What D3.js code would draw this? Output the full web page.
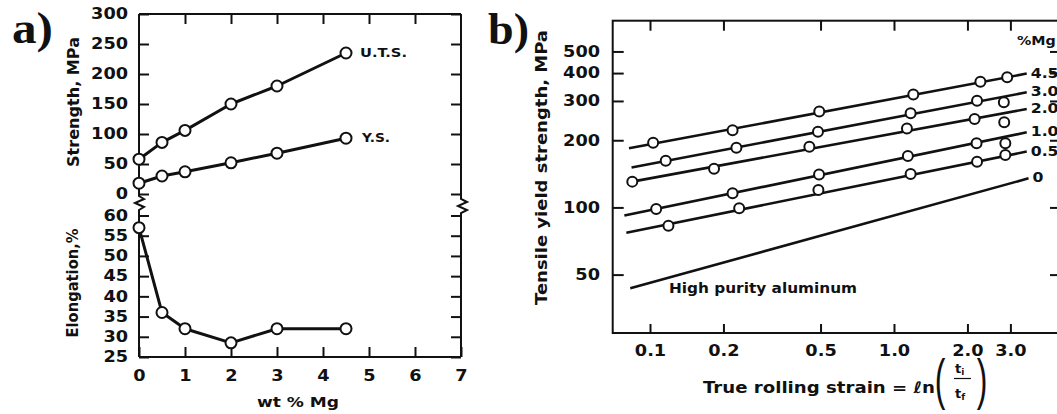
<!DOCTYPE html>
<html>
<head>
<meta charset="utf-8">
<script src="https://cdn.jsdelivr.net/npm/d3@7"></script>
<style>
  html, body { margin: 0; padding: 0; background: #fff; }
  svg { display: block; }
  text { font-family: "DejaVu Sans", sans-serif; font-weight: bold; fill: #111; }
  text.serif { font-family: "Liberation Serif", "Times New Roman", serif; }
  text.paren { font-family: "Liberation Sans", Arial, sans-serif; font-weight: normal; }
</style>
</head>
<body>
<svg id="chart" width="1057" height="414"></svg>
<script>
// ---- Panel a: annealed Al–Mg alloys vs Mg content ----
const mgContent = [0, 0.5, 1, 2, 3, 4.5];
const utsMPa = [58, 86, 106, 150, 180, 235];
const ysMPa = [18, 30, 37, 52, 68, 93];
const elongationPct = [57, 36, 32, 28.5, 32, 32];
const mgTicks = [0, 1, 2, 3, 4, 5, 6, 7];
const strengthTicks = [0, 50, 100, 150, 200, 250, 300];
const elongationTicks = [25, 30, 35, 40, 45, 50, 55, 60];

// ---- Panel b: tensile yield strength vs true rolling strain ----
const mgLevels = ["4.5", "3.0", "2.0", "1.0", "0.5", "0"];
// fitted straight lines (log–log): [strain, MPa] at each end
const fitFrom = [[0.082, 184], [0.084, 151], [0.0846, 130.5], [0.0785, 92], [0.080, 77], [0.083, 43.4]];
const fitTo = [[3.5, 398], [3.5, 328], [3.5, 276], [3.5, 217], [3.5, 178], [3.56, 135]];
// measured points: [strain, MPa]
const pts45 = [[0.103, 195], [0.218, 222], [0.494, 269], [1.20, 321], [2.26, 366], [2.91, 383]];
const pts30 = [[0.116, 162], [0.226, 185], [0.488, 218.5], [1.17, 264], [2.19, 301], [2.82, 296]];
const pts20 = [[0.0846, 130.5], [0.183, 149], [0.450, 187], [1.13, 226], [2.14, 249], [2.83, 241]];
const pts10 = [[0.106, 98.4], [0.218, 115.7], [0.493, 140.5], [1.14, 170], [2.18, 194], [2.86, 194]];
const pts05 = [[0.119, 82.8], [0.232, 99.1], [0.490, 119.7], [1.17, 141.2], [2.19, 160.3], [2.86, 171.8]];
const pts00 = [];
const strainTicks = [0.1, 0.2, 0.5, 1.0, 2.0, 3.0];
const strainTickLabels = ["0.1", "0.2", "0.5", "1.0", "2.0", "3.0"];
const yieldTicks = [50, 100, 200, 300, 400, 500];

const ink = "#111";
const svg = d3.select("#chart");

// widen glyphs horizontally (extended sans look)
function stretch(sel, k) {
  sel.each(function () {
    const w = this.getComputedTextLength();
    d3.select(this).attr("textLength", w * k).attr("lengthAdjust", "spacingAndGlyphs");
  });
}
function styleAxis(g, fontSize) {
  g.attr("font-family", null).attr("font-size", fontSize).attr("color", ink);
  g.select(".domain").remove();
  g.selectAll(".tick line").attr("stroke-width", 2);
  if (fontSize) stretch(g.selectAll(".tick text"), 1.18);
}

// ================= Panel a =================
const xA = d3.scaleLinear().domain([0, 7]).range([139, 461]);
const yStr = d3.scaleLinear().domain([0, 300]).range([194, 14]);
const yEl = d3.scaleLinear().domain([25, 60]).range([357, 215.5]);

const pa = svg.append("g");
const aL = xA(0), aR = xA(7), aT = yStr(300), aB = yEl(25);

// frame, side axes broken between the two y ranges
pa.append("path")
  .attr("d", `M${aL},${aT}H${aR}M${aL},${aB}H${aR}` +
             `M${aL},${aT}V${yStr(0) + 2}l5,3l-9,4l9,4l-5,3V${aB}` +
             `M${aR},${aT}V${yStr(0) + 5}l6,3l-9,4l9,4l-6,3V${aB}`)
  .attr("fill", "none").attr("stroke", ink).attr("stroke-width", 2);

pa.append("g").attr("transform", `translate(${aL},0)`)
  .call(d3.axisLeft(yStr).tickValues(strengthTicks).tickSize(-10).tickPadding(11))
  .call(g => styleAxis(g, 15));
pa.append("g").attr("transform", `translate(${aL},0)`)
  .call(d3.axisLeft(yEl).tickValues(elongationTicks).tickSize(-10).tickPadding(11))
  .call(g => styleAxis(g, 15));
pa.append("g").attr("transform", `translate(${aR},0)`)
  .call(d3.axisRight(yStr).tickValues(strengthTicks).tickSize(-10).tickFormat(""))
  .call(g => styleAxis(g, null));
pa.append("g").attr("transform", `translate(${aR},0)`)
  .call(d3.axisRight(yEl).tickValues(elongationTicks).tickSize(-10).tickFormat(""))
  .call(g => styleAxis(g, null));
pa.append("g").attr("transform", `translate(0,${aB})`)
  .call(d3.axisBottom(xA).tickValues(mgTicks).tickFormat(d3.format("d")).tickSize(-10).tickPadding(13))
  .call(g => styleAxis(g, 15));
pa.append("g").attr("transform", `translate(0,${aT})`)
  .call(d3.axisTop(xA).tickValues(mgTicks.slice(1, -1)).tickSize(-10).tickFormat(""))
  .call(g => styleAxis(g, null));

const seriesA = [
  { y: yStr, v: utsMPa },
  { y: yStr, v: ysMPa },
  { y: yEl, v: elongationPct }
];
seriesA.forEach(s => {
  const pts = mgContent.map((m, i) => [xA(m), s.y(s.v[i])]);
  pa.append("path").attr("d", d3.line()(pts))
    .attr("fill", "none").attr("stroke", ink).attr("stroke-width", 3).attr("stroke-linejoin", "round");
  pa.selectAll(null).data(pts).join("circle")
    .attr("cx", d => d[0]).attr("cy", d => d[1]).attr("r", 5.5)
    .attr("fill", "#fff").attr("stroke", ink).attr("stroke-width", 2);
});

const last = mgContent.length - 1;
pa.append("text").text("U.T.S.")
  .attr("x", xA(mgContent[last]) + 14).attr("y", yStr(utsMPa[last])).attr("dy", "0.36em")
  .attr("font-size", 11.5).attr("textLength", 47).attr("lengthAdjust", "spacingAndGlyphs");
pa.append("text").text("Y.S.")
  .attr("x", xA(mgContent[last]) + 16).attr("y", yStr(ysMPa[last])).attr("dy", "0.36em")
  .attr("font-size", 11.5).attr("textLength", 28).attr("lengthAdjust", "spacingAndGlyphs");

pa.append("text").text("Strength, MPa")
  .attr("transform", "translate(74,102) rotate(-90)").attr("text-anchor", "middle").attr("dy", "0.36em")
  .attr("font-size", 15).attr("textLength", 130).attr("lengthAdjust", "spacingAndGlyphs");
pa.append("text").text("Elongation,%")
  .attr("transform", "translate(73,283) rotate(-90)").attr("text-anchor", "middle").attr("dy", "0.36em")
  .attr("font-size", 15).attr("textLength", 109).attr("lengthAdjust", "spacingAndGlyphs");
pa.append("text").text("wt % Mg")
  .attr("x", 298).attr("y", 402).attr("text-anchor", "middle").attr("dy", "0.36em")
  .attr("font-size", 14.5).attr("textLength", 82).attr("lengthAdjust", "spacingAndGlyphs");
pa.append("text").attr("class", "serif").text("a)")
  .attr("x", 12).attr("y", 43).attr("font-size", 44)
  .attr("textLength", 41).attr("lengthAdjust", "spacingAndGlyphs");

// ================= Panel b =================
const xB = d3.scaleLog().domain([0.1, 3]).range([650, 1010.4]);
const yB = d3.scaleLog().domain([50, 500]).range([274.6, 51.45]);
const bL = 612.7, bR = 1060, bT = 20.7, bB = 333;

const pb = svg.append("g");
pb.append("rect").attr("x", bL).attr("y", bT).attr("width", bR - bL).attr("height", bB - bT)
  .attr("fill", "none").attr("stroke", ink).attr("stroke-width", 2);

pb.append("g").attr("transform", `translate(${bL},0)`)
  .call(d3.axisLeft(yB).tickValues(yieldTicks).tickFormat(d3.format("d")).tickSize(-11).tickPadding(12.7))
  .call(g => styleAxis(g, 15));
pb.append("g").attr("transform", `translate(${bR},0)`)
  .call(d3.axisRight(yB).tickValues(yieldTicks).tickSize(-10).tickFormat(""))
  .call(g => styleAxis(g, null));
pb.append("g").attr("transform", `translate(0,${bB})`)
  .call(d3.axisBottom(xB).tickValues(strainTicks).tickSize(-9)
    .tickFormat((d, i) => strainTickLabels[i]).tickPadding(12.5))
  .call(g => styleAxis(g, 15));
pb.append("g").attr("transform", `translate(0,${bT})`)
  .call(d3.axisTop(xB).tickValues(strainTicks).tickSize(-10).tickFormat(""))
  .call(g => styleAxis(g, null));

const measured = [pts45, pts30, pts20, pts10, pts05, pts00];
const lineB = d3.line().x(d => xB(d[0])).y(d => yB(d[1]));
mgLevels.forEach((lvl, i) => {
  pb.append("path").attr("d", lineB([fitFrom[i], fitTo[i]]))
    .attr("fill", "none").attr("stroke", ink).attr("stroke-width", 2.6);
  pb.selectAll(null).data(measured[i]).join("circle")
    .attr("cx", d => xB(d[0])).attr("cy", d => yB(d[1])).attr("r", 5)
    .attr("fill", "#fff").attr("stroke", ink).attr("stroke-width", 2);
  pb.append("text").text(lvl)
    .attr("x", xB(fitTo[i][0]) + 4).attr("y", yB(fitTo[i][1]) - 1).attr("dy", "0.36em")
    .attr("font-size", 14)
    .call(t => stretch(t, 1.12));
});
pb.append("text").text("%Mg")
  .attr("x", 1017).attr("y", 40).attr("dy", "0.36em").attr("font-size", 13)
  .call(t => stretch(t, 1.1));

pb.append("text").text("High purity aluminum")
  .attr("x", 669).attr("y", 293).attr("font-size", 14)
  .attr("textLength", 188).attr("lengthAdjust", "spacingAndGlyphs");

pb.append("text").text("Tensile yield strength, MPa")
  .attr("transform", "translate(542,167.5) rotate(-90)").attr("text-anchor", "middle").attr("dy", "0.36em")
  .attr("font-size", 15).attr("textLength", 275).attr("lengthAdjust", "spacingAndGlyphs");

// x-axis title with ln(ti / tf); tall, narrow parentheses
pb.append("text").text("True rolling strain = ℓn")
  .attr("x", 703).attr("y", 392.5).attr("font-size", 16)
  .attr("textLength", 232).attr("lengthAdjust", "spacingAndGlyphs");
pb.append("text").attr("class", "paren").text("(")
  .attr("transform", "translate(940,398) scale(1,1.75)").attr("text-anchor", "middle").attr("font-size", 32);
pb.append("text").attr("class", "paren").text(")")
  .attr("transform", "translate(982,398) scale(1,1.75)").attr("text-anchor", "middle").attr("font-size", 32);
const num = pb.append("text").attr("x", 955).attr("y", 373).attr("font-size", 13);
num.append("tspan").text("t");
num.append("tspan").text("i").attr("font-size", 9).attr("dy", 2);
pb.append("line").attr("x1", 954).attr("x2", 971).attr("y1", 378.5).attr("y2", 378.5)
  .attr("stroke", ink).attr("stroke-width", 1.2);
const den = pb.append("text").attr("x", 955).attr("y", 398).attr("font-size", 13);
den.append("tspan").text("t");
den.append("tspan").text("f").attr("font-size", 9).attr("dy", 2);

pb.append("text").attr("class", "serif").text("b)")
  .attr("x", 488).attr("y", 43.5).attr("font-size", 44)
  .attr("textLength", 41).attr("lengthAdjust", "spacingAndGlyphs");
</script>
</body>
</html>
